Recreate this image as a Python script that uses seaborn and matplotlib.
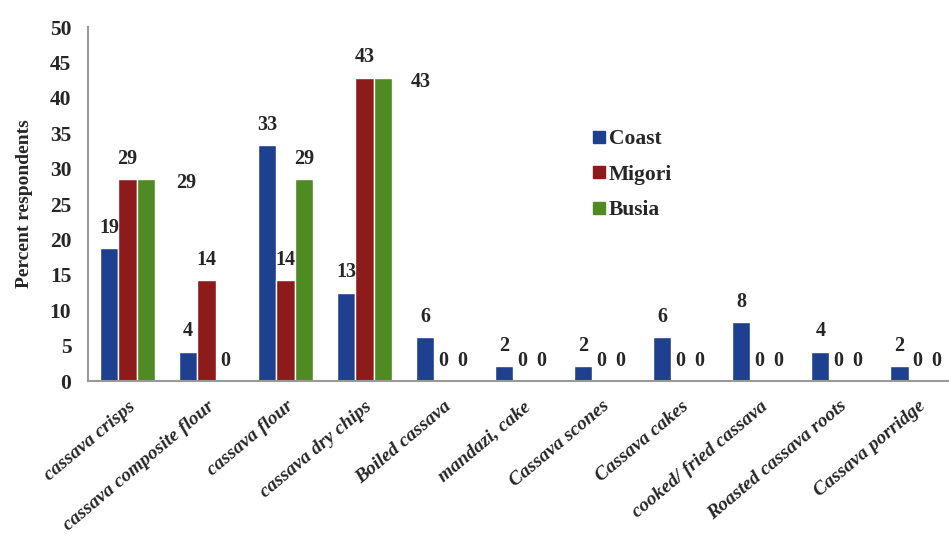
import pandas as pd
import matplotlib.pyplot as plt
import seaborn as sns
from matplotlib.lines import Line2D

# values
products = ['cassava crisps', 'cassava composite flour', 'cassava flour', 'cassava dry chips',
            'Boiled cassava', 'mandazi, cake', 'Cassava scones', 'Cassava cakes',
            'cooked/ fried cassava', 'Roasted cassava roots', 'Cassava porridge']
regions = ['Coast', 'Migori', 'Busia']
coast = [18.75, 4.17, 33.33, 12.5, 6.25, 2.08, 2.08, 6.25, 8.33, 4.17, 2.08]
migori = [28.57, 14.29, 14.29, 42.86, 0, 0, 0, 0, 0, 0, 0]
busia = [28.57, 0, 28.57, 42.86, 0, 0, 0, 0, 0, 0, 0]
colors = ['#1f3f8f', '#8e1b1b', '#4f8a22']

df = pd.DataFrame({
    'Product': products * 3,
    'Region': sum([[r] * len(products) for r in regions], []),
    'Percent': coast + migori + busia,
})

sns.set_style('white')
plt.rcParams['font.family'] = ['Liberation Serif', 'DejaVu Serif']
plt.rcParams['font.weight'] = 'bold'

fig = plt.figure(figsize=(9.49, 5.48), dpi=100)
ax = fig.add_axes([0.0927, 0.3047, 0.916, 0.646])

sns.barplot(data=df, x='Product', y='Percent', hue='Region', palette=colors,
            width=0.7, ax=ax, legend=False, saturation=1)

# data labels (Excel put two of them off to the side)
shifted = {(2, 0): (29, -3), (2, 3): (27, -3)}
for s, cont in enumerate(ax.containers):
    for i, bar in enumerate(cont):
        h = bar.get_height()
        dx, dy = shifted.get((s, i), (0, 14.5))
        ax.annotate(str(int(h + 0.5)), (bar.get_x() + bar.get_width() / 2, h),
                    xytext=(dx, dy), textcoords='offset points',
                    ha='center', va='center', fontsize=14.5, fontweight='bold')

ax.set_xlim(-0.5, len(products) - 0.5)
ax.set_ylim(0, 50)
ax.set_yticks(range(0, 51, 5))
ax.set_xlabel('')
ax.set_ylabel('Percent respondents', fontsize=14, fontweight='bold', labelpad=12)

ax.set_xticks(range(len(products)))
ax.set_xticklabels(products, rotation=40, ha='right', rotation_mode='anchor',
                   fontsize=14, fontweight='bold', fontstyle='italic')
ax.set_xticks([i - 0.5 for i in range(len(products) + 1)], minor=True)
ax.tick_params(axis='x', which='major', length=0, pad=12)
ax.tick_params(axis='x', which='minor', length=5, color='#999999', direction='out')
ax.tick_params(axis='y', length=5, color='#999999', direction='out', labelsize=15.5, pad=7)
for t in ax.get_yticklabels():
    t.set_fontweight('bold')

for side in ['top', 'right']:
    ax.spines[side].set_visible(False)
for side in ['left', 'bottom']:
    ax.spines[side].set_color('#999999')
    ax.spines[side].set_linewidth(1.5)

handles = [Line2D([0], [0], marker='s', linestyle='', markersize=8,
                  markerfacecolor=c, markeredgecolor=c) for c in colors]
fig.legend(handles, regions, loc='upper left', bbox_to_anchor=(0.602, 0.8),
           frameon=False, handletextpad=0.05, labelspacing=0.72, handlelength=0.8,
           prop={'family': 'Liberation Serif', 'weight': 'bold', 'size': 15.5})

fig.savefig('out.png', dpi=100)
